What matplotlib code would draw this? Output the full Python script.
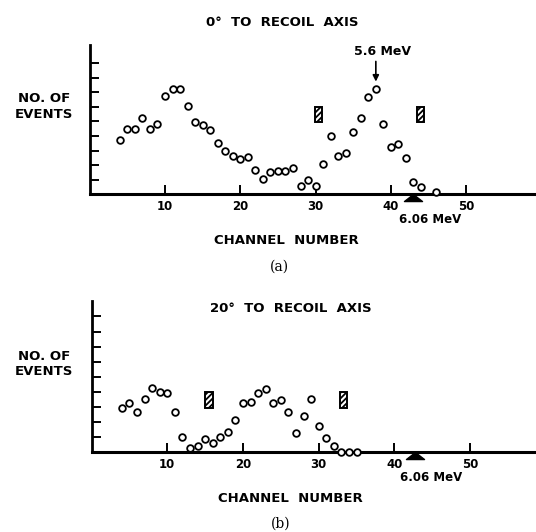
import matplotlib
matplotlib.use('Agg')
import matplotlib.pyplot as plt
from matplotlib.patches import Rectangle

# Datos (canal, número de eventos en unidades de marca)
canales_a = [4, 5, 6, 7, 8, 9, 10, 11, 12, 13, 14, 15, 16, 17, 18, 19, 20, 21,
             22, 23, 24, 25, 26, 27, 28, 29, 30, 31, 32, 33, 34, 35, 36, 37,
             38, 39, 40, 41, 42, 43, 44, 46]
eventos_a = [3.72, 4.45, 4.47, 5.25, 4.45, 4.81, 6.75, 7.21, 7.23, 6.05, 4.97,
             4.72, 4.40, 3.49, 2.99, 2.62, 2.44, 2.58, 1.66, 1.07, 1.55, 1.58,
             1.58, 1.82, 0.59, 0.98, 0.57, 2.08, 3.97, 2.62, 2.80, 4.24, 5.22,
             6.68, 7.21, 4.81, 3.24, 3.42, 2.47, 0.86, 0.48, 0.14]

canales_b = list(range(4, 36))
eventos_b = [2.91, 3.24, 2.69, 3.51, 4.24, 3.99, 3.95, 2.67, 1.03, 0.26, 0.42,
             0.88, 0.64, 1.03, 1.36, 2.14, 3.29, 3.35, 3.91, 4.17, 3.29, 3.46,
             2.69, 1.30, 2.40, 3.53, 1.74, 0.97, 0.42, 0.02, 0.02, 0.05]

# Barras de error rayadas (canal, valor)
cajas_a = [(30.4, 5.47), (43.9, 5.47)]
cajas_b = [(15.5, 3.46), (33.3, 3.46)]

# Marcas de energía
triangulo_a = 43.0
triangulo_b = 42.7
pico_a = 38  # 5.6 MeV

ticks_x = [10, 20, 30, 40, 50]
ticks_y = [1, 2, 3, 4, 5, 6, 7, 8, 9]

plt.rcParams['hatch.linewidth'] = 1.3
W, H = 536, 532
fig = plt.figure(figsize=(W / 100, H / 100), dpi=100)


def ejes(izq, abajo, der, arriba, xmax, ymax):
    ax = fig.add_axes([izq / W, 1 - abajo / H, (der - izq) / W, (abajo - arriba) / H])
    ax.set_xlim(0, xmax)
    ax.set_ylim(0, ymax)
    for s in ['top', 'right']:
        ax.spines[s].set_visible(False)
    ax.spines['left'].set_linewidth(2)
    ax.spines['bottom'].set_linewidth(2.2)
    ax.set_xticks(ticks_x)
    ax.set_yticks(ticks_y)
    ax.set_yticklabels([])
    ax.tick_params(axis='both', direction='in', length=6.5, width=1.4)
    ax.tick_params(axis='x', labelsize=8.5, pad=4)
    for t in ax.get_xticklabels():
        t.set_fontweight('bold')
    return ax


def dibujar(ax, canales, eventos, cajas, tri):
    ax.plot(canales, eventos, 'o', mfc='white', mec='black', ms=4.8, mew=1.3,
            clip_on=False, zorder=3)
    for cx, cy in cajas:
        ax.add_patch(Rectangle((cx - 0.5, cy - 0.52), 1.0, 1.04, facecolor='white',
                               edgecolor='black', hatch='//////', lw=1.4))
    ax.plot([tri], [0], marker=[(0, 0), (-1, -0.78), (1, -0.78), (0, 0)],
            color='black', ms=13, clip_on=False, zorder=4)
    ax.annotate('6.06 MeV', xy=(tri, 0), xytext=(12, -18), textcoords='offset points',
                ha='center', va='center', fontsize=8.5, fontweight='bold')


ax_a = ejes(89.7, 194.3, 536, 45, (536 - 89.7) / 7.53, (194.3 - 45) / 14.6)
dibujar(ax_a, canales_a, eventos_a, cajas_a, triangulo_a)
ax_a.annotate('', xy=(pico_a, 7.72), xytext=(pico_a, 9.1),
              arrowprops=dict(arrowstyle='-|>', color='black', lw=1.2, mutation_scale=9,
                              shrinkA=0, shrinkB=0))
ax_a.text(pico_a + 0.95, 9.75, '5.6 MeV', ha='center', va='center', fontsize=9,
          fontweight='bold')

ax_b = ejes(91.6, 452.3, 536, 300.7, (536 - 91.6) / 7.57, 10.04)
dibujar(ax_b, canales_b, eventos_b, cajas_b, triangulo_b)

# Textos de la figura
def texto(x, y, s, **kw):
    fig.text(x / W, 1 - y / H, s, ha='center', va='center', **kw)


texto(282, 23, '0°  TO  RECOIL  AXIS', fontsize=9.5, fontweight='bold')
texto(291, 308, '20°  TO  RECOIL  AXIS', fontsize=9.5, fontweight='bold')
for y in (106.5, 364):
    texto(44, y, 'NO. OF\nEVENTS', fontsize=9.5, fontweight='bold', linespacing=1.25)
texto(286, 240, 'CHANNEL  NUMBER', fontsize=9.5, fontweight='bold')
texto(290, 498, 'CHANNEL  NUMBER', fontsize=9.5, fontweight='bold')
texto(279, 267, '(a)', fontsize=10, family='DejaVu Serif')
texto(281, 524, '(b)', fontsize=10, family='DejaVu Serif')

fig.savefig('out.png', dpi=100)
